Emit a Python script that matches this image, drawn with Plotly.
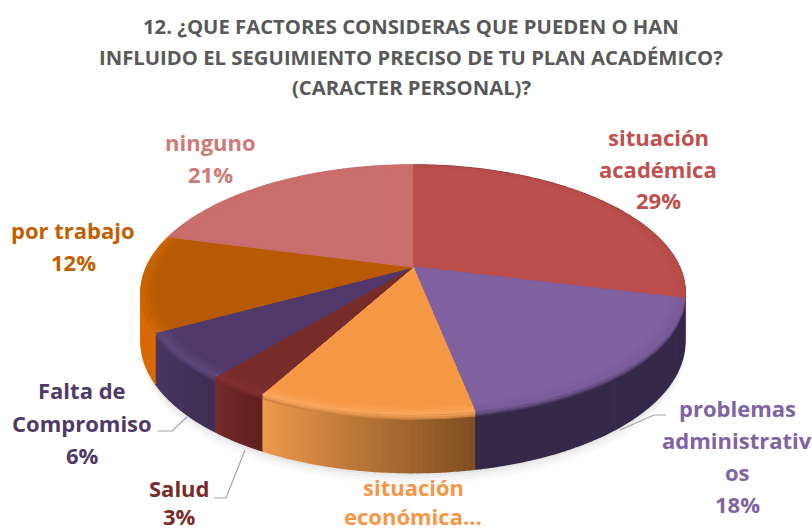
import numpy as np
import plotly.graph_objects as go

# ---- data -------------------------------------------------------------
categories = ["situación<br>académica", "problemas<br>administrativ<br>os", "situación<br>económica...",
              "Salud", "Falta de<br>Compromiso", "por trabajo", "ninguno"]
values = [29, 18, 10.7, 3.1, 6, 12.4, 20.8]
percent_hidden = ["situación<br>económica..."]
title_lines = ["12. ¿QUE FACTORES CONSIDERAS QUE PUEDEN O HAN",
               "INFLUIDO EL SEGUIMIENTO PRECISO DE TU PLAN ACADÉMICO?",
               "(CARACTER PERSONAL)?"]

# ---- style ------------------------------------------------------------
top_colors = ["#BC4F4C", "#8062A0", "#F59845", "#772C2A", "#50396A", "#B85A03", "#C96E6C"]
rim_colors = ["#B84C49", "#7A5C9A", "#F9A65C", "#80302E", "#5C4579", "#C96402", "#C96E6C"]
wall_left = ["#8A3A38", "#35294A", "#F09A4C", "#772C2A", "#4B3864", "#E06C02", "#C96E6C"]
wall_right = ["#8A3A38", "#35294A", "#7F4F22", "#5E201F", "#3D2E54", "#D96A00", "#C96E6C"]
label_colors = ["#C0504D", "#8064A2", "#F79646", "#772C2A", "#4F3A67", "#C25F00", "#D07A78"]
label_pos = [(658, 137), (737, 408), (413, 487), (179, 488), (82, 390), (73, 230), (210, 142)]
line_gap = [31.5, 32, 29, 28, 32.5, 32, 32]
title_y = [26, 57, 87]
leaders = [None, ([666, 654, 620], [415, 415, 430]), None,
           ([214, 226, 245], [498, 498, 450]), ([158, 172, 187], [431, 431, 417]), None, None]

CX, CY, RX, RY, KX, KY, DEPTH = 413.0, 267.0, 266.5, 120.8, 0.20, 0.184, 47.0
FONT = "Open Sans"


def project(theta, r=1.0):
    u, v = r * np.sin(theta), -r * np.cos(theta)
    return CX + RX * u / (1 - KX * v), CY + RY * v / (1 - KY * v), 1 / (1 - KY * v)


def wall_shift(theta):
    return DEPTH * project(theta)[2]


def hex_rgb(h):
    return np.array([int(h[i:i + 2], 16) for i in (1, 3, 5)], float)


def mix(a, b, t):
    c = hex_rgb(a) * (1 - t) + hex_rgb(b) * t
    return "rgb(%d,%d,%d)" % tuple(c)


def poly(xs, ys, color, lw=1.5):
    return go.Scatter(x=xs, y=ys, mode="lines", fill="toself", fillcolor=color,
                      line=dict(color=color, width=lw), hoverinfo="skip", showlegend=False)


edges = np.cumsum([0] + values) / sum(values) * 2 * np.pi
fig = go.Figure()

# soft shadow beneath the disc
full = np.linspace(0, 2 * np.pi, 241)
for extra, alpha in [(12, 0.03), (9, 0.04), (6, 0.05), (3, 0.07)]:
    x, y, _ = project(full)
    fig.add_trace(poly(x, y + wall_shift(full) + extra, "rgba(120,120,120,%.2f)" % alpha, 0))

# side walls
for i in range(len(values)):
    a, b = edges[i], edges[i + 1]
    n = max(2, int((b - a) / np.radians(1)))
    steps = np.linspace(a, b, n + 1)
    for j in range(n):
        t = np.linspace(steps[j], steps[j + 1], 3)
        x, y, _ = project(t)
        yb = y + wall_shift(t)
        fig.add_trace(poly(np.r_[x, x[::-1]], np.r_[y, yb[::-1]],
                           mix(wall_right[i], wall_left[i], (j + 0.5) / n)))

# blurred seam between top face and wall
for i in range(len(values)):
    t = np.linspace(edges[i], edges[i + 1], 60)
    x, y, _ = project(t)
    mid = "#%02X%02X%02X" % tuple(int(c) for c in (hex_rgb(wall_left[i]) + hex_rgb(wall_right[i])) / 2)
    for off, f in [(4, 0.75), (3, 0.55), (2, 0.35), (1, 0.15)]:
        fig.add_trace(go.Scatter(x=x, y=y + off, mode="lines", hoverinfo="skip", showlegend=False,
                                 line=dict(color=mix(rim_colors[i], mid, f), width=1.5)))

# top faces, with a bevel strip along the rim
for i in range(len(values)):
    t = np.linspace(edges[i], edges[i + 1], 80)
    x, y, _ = project(t)
    fig.add_trace(poly(np.r_[CX, x], np.r_[CY, y], rim_colors[i], 0.6))
    for r, f in [(0.985, 0.33), (0.97, 0.66), (0.955, 1.0)]:
        xi, yi, _ = project(t, r)
        fig.add_trace(poly(np.r_[CX, xi], np.r_[CY, yi], mix(rim_colors[i], top_colors[i], f), 0.6))

# leader lines
for seg in leaders:
    if seg:
        fig.add_trace(go.Scatter(x=seg[0], y=seg[1], mode="lines", hoverinfo="skip",
                                 line=dict(color="#A6A6A6", width=1.2), showlegend=False))

# data labels, one annotation per line so the leading follows the reference
notes = []
for name, val, col, (lx, ly), gap in zip(categories, values, label_colors, label_pos, line_gap):
    lines = name.split("<br>")
    if name not in percent_hidden:
        lines.append("%d%%" % round(val))
    for k, line in enumerate(lines):
        notes.append(dict(x=lx, y=ly + k * gap, text=line, showarrow=False,
                          font=dict(family=FONT, size=22, color=col, weight="bold")))

for line, ty in zip(title_lines, title_y):
    notes.append(dict(x=411, y=ty, text=line, showarrow=False,
                      font=dict(family=FONT, size=20.3, color="#595959", weight="bold")))

fig.update_layout(
    width=812, height=531, margin=dict(l=0, r=0, t=0, b=0),
    paper_bgcolor="white", plot_bgcolor="white", showlegend=False,
    xaxis=dict(range=[0, 812], visible=False, fixedrange=True),
    yaxis=dict(range=[531, 0], visible=False, fixedrange=True),
    annotations=notes,
)
fig.write_html("out.html", config={"displayModeBar": False},
               post_script="document.body.style.margin='0';document.body.style.overflow='hidden';")
